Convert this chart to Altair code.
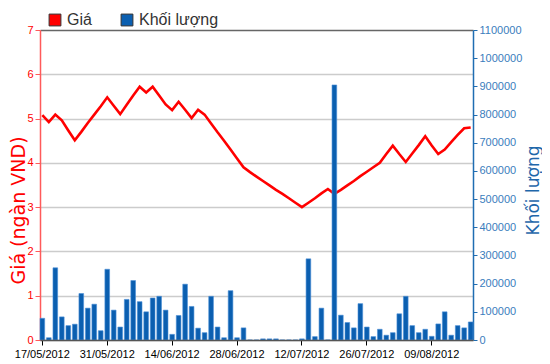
import altair as alt
import pandas as pd

# trading days 17/05/2012 .. 17/08/2012
dates = [d.strftime("%d/%m/%Y") for d in pd.bdate_range("2012-05-17", "2012-08-17")]

tick_labels = ["17/05/2012", "31/05/2012", "14/06/2012", "28/06/2012",
               "12/07/2012", "26/07/2012", "09/08/2012"]

price = [5.08, 4.92, 5.09, 4.96, 4.73, 4.51, 4.70, 4.90, 5.09, 5.28,
         5.48, 5.29, 5.10, 5.31, 5.52, 5.72, 5.59, 5.72, 5.52, 5.32,
         5.19, 5.38, 5.20, 5.01, 5.20, 5.09, 4.89, 4.69, 4.50, 4.30,
         4.10, 3.90, 3.79, 3.69, 3.59, 3.49, 3.39, 3.30, 3.20, 3.10,
         3.00, 3.10, 3.20, 3.31, 3.41, 3.30, 3.39, 3.49, 3.59, 3.70,
         3.80, 3.90, 4.00, 4.20, 4.39, 4.20, 4.02, 4.21, 4.40, 4.60,
         4.39, 4.20, 4.30, 4.47, 4.63, 4.78, 4.80]

volume = [77000, 8000, 256000, 82000, 51000, 56000, 165000, 113000, 127000, 33000,
          251000, 106000, 46000, 144000, 211000, 136000, 100000, 149000, 155000, 106000,
          20000, 87000, 198000, 119000, 42000, 26000, 155000, 46000, 8000, 175000,
          8000, 43000, 0, 0, 4000, 4000, 4000, 0, 0, 0,
          4000, 288000, 12000, 113000, 0, 905000, 88000, 62000, 43000, 129000,
          46000, 12000, 38000, 17000, 26000, 93000, 155000, 51000, 26000, 38000,
          13000, 57000, 100000, 17000, 51000, 43000, 64000]

series_names = ["Giá", "Khối lượng"]
series_colors = ["#ff0000", "#0b5fb0"]

df = pd.DataFrame({"d": dates, "price": price, "vol": volume})

X = alt.X(
    "d:O", sort=None,
    scale=alt.Scale(type="band", paddingInner=0.28, paddingOuter=0),
    axis=alt.Axis(values=tick_labels, labelAngle=0, title=None,
                  labelFont="Liberation Sans", labelFontSize=11, labelColor="#000",
                  domainColor="#555", domainWidth=1.5, tickColor="#000",
                  tickSize=5, labelPadding=3, grid=False, zindex=1),
)

line = alt.Chart(df).mark_line(color="#ff0000", strokeWidth=2.6).encode(
    x=X,
    y=alt.Y("price:Q", scale=alt.Scale(domain=[0, 7], nice=False),
            axis=alt.Axis(values=[0, 1, 2, 3, 4, 5, 6, 7], title="Giá (ngàn VND)",
                          labelFont="Liberation Sans", labelFontSize=11,
                          labelColor="#ff0000", domainColor="#ff5a5a", domainWidth=1.5,
                          tickColor="#ff5a5a", tickSize=5, labelPadding=2,
                          grid=True, gridWidth=1.5,
                          gridColor={"condition": {"test": "datum.value === 7", "value": "#666"},
                                     "value": "#cccccc"},
                          titleColor="#ff0000", titleFont="DejaVu Sans",
                          titleFontSize=19, titleFontWeight="normal",
                          titleAngle=270, titleX=-22, titleY=180,
                          titleBaseline="middle", titleAlign="center")),
)

bars = alt.Chart(df).transform_calculate(series="'Khối lượng'").mark_bar(
    stroke="#4a8fd6", strokeWidth=0.6
).encode(
    x=X,
    y=alt.Y("vol:Q", scale=alt.Scale(domain=[0, 1100000], nice=False),
            axis=alt.Axis(orient="right", values=list(range(0, 1100001, 100000)),
                          format="d", title="Khối lượng",
                          labelFont="Liberation Sans", labelFontSize=11,
                          labelColor="#3a7dbd", domainColor="#1f6db2", domainWidth=1.5,
                          tickColor="#1f6db2", tickSize=4, labelPadding=2, grid=False,
                          titleColor="#1f67aa", titleFont="DejaVu Sans",
                          titleFontSize=17, titleFontWeight="normal",
                          titleAngle=270, titleX=60, titleY=160,
                          titleBaseline="middle", titleAlign="center")),
    color=alt.Color("series:N",
                    scale=alt.Scale(domain=series_names, range=series_colors),
                    legend=alt.Legend(orient="none", legendX=7, legendY=-18,
                                      direction="horizontal", title=None,
                                      gridAlign="none",
                                      symbolType="square", symbolSize=140,
                                      symbolStrokeColor="#333", symbolStrokeWidth=1,
                                      labelFont="Liberation Sans", labelFontSize=16,
                                      labelColor="#333", columnPadding=27,
                                      labelOffset=4)),
)

chart = alt.layer(line, bars).resolve_scale(y="independent").properties(
    width=433, height=310,
    autosize=alt.AutoSizeParams(type="none"),
    padding={"left": 32, "top": 22, "right": 69, "bottom": 18},
    background="white",
).configure_view(stroke=None)

chart.save("out.html", embed_options={"renderer": "svg", "actions": False})
